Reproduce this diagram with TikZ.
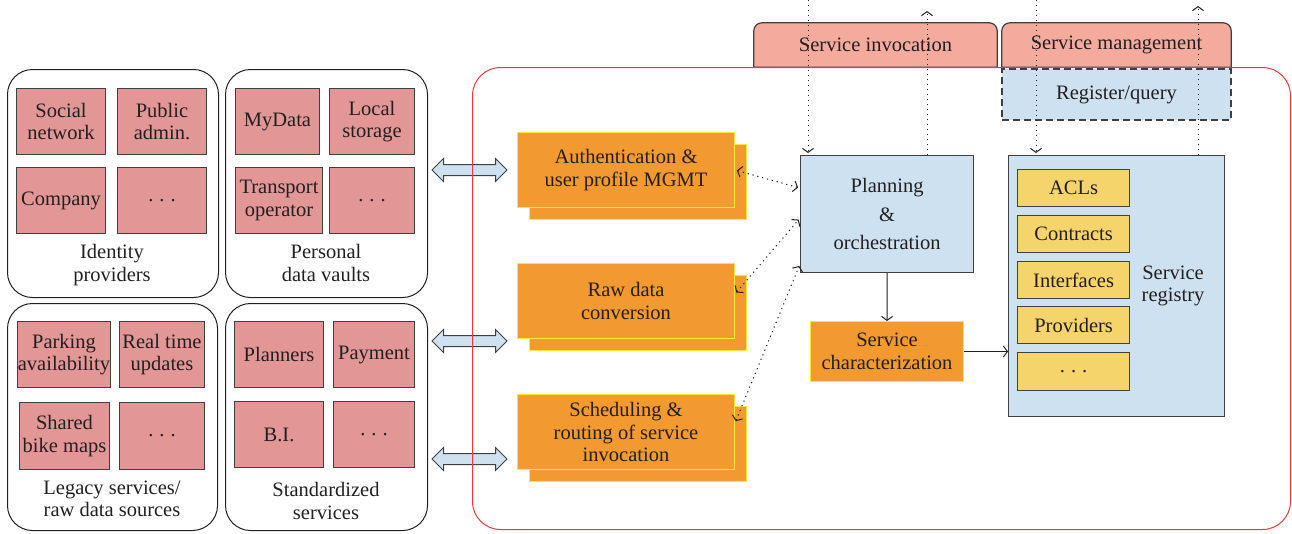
\documentclass[tikz,border=0pt]{standalone}
\usepackage{tikz}
\usepackage{xcolor}
\usepackage{fontspec}
\setmainfont{Liberation Serif}
\usetikzlibrary{arrows.meta,shapes.arrows,shadows,backgrounds}

\definecolor{ink}{RGB}{35,31,32}
\definecolor{edgegray}{RGB}{64,64,64}
\definecolor{pinkfill}{RGB}{226,150,150}
\definecolor{tabfill}{RGB}{244,171,158}
\definecolor{bluefill}{RGB}{206,225,240}
\definecolor{orangefill}{RGB}{242,153,47}
\definecolor{orangeedge}{RGB}{246,232,60}
\definecolor{yellowfill}{RGB}{246,212,108}
\definecolor{framered}{RGB}{232,58,58}

\newcommand{\more}{.\kern6pt.\kern6pt.}

\begin{document}
\begin{tikzpicture}[x=1pt,y=-1pt]
\tikzset{every node/.style={font=\fontsize{20.5}{22.5}\selectfont, text=ink, align=center}}
\tikzset{sz/.style 2 args={minimum width=#1pt, minimum height=#2pt, anchor=north west}}
\tikzset{panel/.style={draw=ink, line width=1pt, rounded corners=25pt, inner sep=0pt}}
\tikzset{pinkbox/.style={draw=edgegray, fill=pinkfill, line width=1pt, inner sep=0pt}}
\tikzset{opbox/.style={draw=orangeedge, fill=orangefill, line width=1pt, inner sep=0pt}}
\tikzset{stackbox/.style={opbox, copy shadow={shadow xshift=12pt, shadow yshift=-12pt}}}
\tikzset{bluebox/.style={draw=edgegray, fill=bluefill, line width=1.2pt, inner sep=0pt}}
\tikzset{ybox/.style={draw=edgegray, fill=yellowfill, line width=1.2pt, inner sep=0pt}}
\tikzset{tabshape/.style={draw=edgegray, fill=tabfill, line width=1.2pt}}
\tikzset{link/.style={double arrow, draw=edgegray, fill=bluefill, line width=1pt,
  minimum height=75pt, inner xsep=0pt, inner ysep=5pt,
  double arrow head extend=6pt, double arrow tip angle=90}}
\tikzset{>={Straight Barb[length=4pt,width=11pt]}}
\tikzset{dotlink/.style={draw=ink, line width=1pt, dash pattern=on 1.2pt off 3.8pt, shorten >=2pt}}
\tikzset{flow/.style={draw=ink, line width=1pt, ->}}

\useasboundingbox (0,0) rectangle (1292,533);

% source panels
\node[panel, sz={211}{228}] (idp) at (7,69) {};
\node[panel, sz={202}{228}] (vault) at (225,69) {};
\node[panel, sz={210}{227}] (legacy) at (7,303) {};
\node[panel, sz={202}{227}] (std) at (225,303) {};

\node[pinkbox, sz={89}{66}] (social) at (16,88) {Social\\network};
\node[pinkbox, sz={89}{66}] (public) at (117,88) {Public\\admin.};
\node[pinkbox, sz={89}{66}] (company) at (16,167) {Company};
\node[pinkbox, sz={89}{66}] (idmore) at (117,167) {\more};
\node at (112,265) {Identity\\providers};

\node[pinkbox, sz={84}{66}] (mydata) at (235,88) {MyData};
\node[pinkbox, sz={85}{66}] (local) at (329,88) {Local\\storage};
\node[pinkbox, sz={87}{66}] (transport) at (235,167) {Transport\\operator};
\node[pinkbox, sz={85}{66}] (vaultmore) at (329,167) {\more};
\node at (326,263) {Personal\\data vaults};

\node[pinkbox, sz={93}{66}] (parking) at (17,321) {Parking\\availability};
\node[pinkbox, sz={85}{66}] (realtime) at (119,321) {Real time\\updates};
\node[pinkbox, sz={90}{67}] (bike) at (19,402) {Shared\\bike maps};
\node[pinkbox, sz={85}{67}] (legmore) at (119,402) {\more};
\node at (112,499) {Legacy services/\\raw data sources};

\node[pinkbox, sz={89}{66}] (planners) at (234,321) {Planners};
\node[pinkbox, sz={81}{66}] (payment) at (333,321) {Payment};
\node[pinkbox, sz={89}{66}] (bi) at (234,401) {B.I.};
\node[pinkbox, sz={81}{66}] (stdmore) at (333,401) {\more};
\node at (326,501) {Standardized\\services};

% links into the platform
\node[link] (linkAuth) at (469.5,170) {};
\node[link] (linkRaw) at (469.5,341) {};
\node[link] (linkSched) at (469.5,459) {};

% platform
\node[draw=framered, line width=1pt, rounded corners=28pt, sz={818}{462}] (core) at (472,67) {};

\node[stackbox, sz={217}{75}] (auth) at (517,132) {Authentication \&\\user profile MGMT};
\node[stackbox, sz={217}{75}] (raw) at (517,263) {Raw data\\conversion};
\node[stackbox, sz={217}{75}] (sched) at (517,394) {Scheduling \&\\routing of service\\invocation};

\node[bluebox, sz={173}{117}] (plan) at (800,155) {Planning\\[6pt]\&\\[6pt]orchestration};
\node[opbox, sz={153}{60}] (charac) at (810,321) {Service\\characterization};

\node[bluebox, sz={216}{261}] (reg) at (1008,155) {};
\node[ybox, sz={112}{37}] (acl) at (1017,169) {ACLs};
\node[ybox, sz={112}{37}] (contracts) at (1017,215) {Contracts};
\node[ybox, sz={112}{37}] (ifaces) at (1017,261) {Interfaces};
\node[ybox, sz={112}{37}] (providers) at (1017,306) {Providers};
\node[ybox, sz={112}{38}] (regmore) at (1017,352) {\more};
\node (reglabel) at (1173,286) {Service\\registry};

% top tabs
\node[minimum width=243pt, minimum height=44pt] (inv) at (875.5,45) {Service invocation};
\node[minimum width=229pt, minimum height=44pt] (mgmt) at (1116.5,45) {Service management};
\begin{scope}[on background layer]
\draw[tabshape] (inv.south west) [rounded corners=8pt] -- (inv.north west) -- (inv.north east) [sharp corners] -- (inv.south east) -- cycle;
\draw[tabshape] (mgmt.south west) [rounded corners=8pt] -- (mgmt.north west) -- (mgmt.north east) [sharp corners] -- (mgmt.south east) -- cycle;
\end{scope}
\node[draw=edgegray, fill=bluefill, line width=1.2pt, dash pattern=on 7pt off 4pt, minimum width=229pt, minimum height=51pt] (regq) at (1116.5,94.5) {Register/query};

% connectors
\coordinate (invDown) at (808,0);
\coordinate (invUp) at (927,9);
\coordinate (mgmtDown) at (1036,0);
\coordinate (mgmtUp) at (1198,4);
\draw[dotlink,->] (invDown) -- (invDown |- plan.north);
\draw[dotlink,->] (invUp |- plan.north) -- (invUp);
\draw[dotlink,->] (mgmtDown) -- (mgmtDown |- reg.north);
\draw[dotlink,->] (mgmtUp |- reg.north) -- (mgmtUp);

\draw[dotlink,<->, shorten <=2pt] (auth.east) -- ([yshift=26pt]plan.west);
\draw[dotlink,<->, shorten <=2pt] ([yshift=7pt]raw.east) -- ([yshift=-4pt]plan.west);
\draw[dotlink,<->, shorten <=2pt] ([yshift=9pt]sched.east) -- ([yshift=-50pt]plan.west);

\draw[flow] (plan) -- (charac);
\draw[flow] (charac) -- (charac -| reg.west);
\end{tikzpicture}
\end{document}
